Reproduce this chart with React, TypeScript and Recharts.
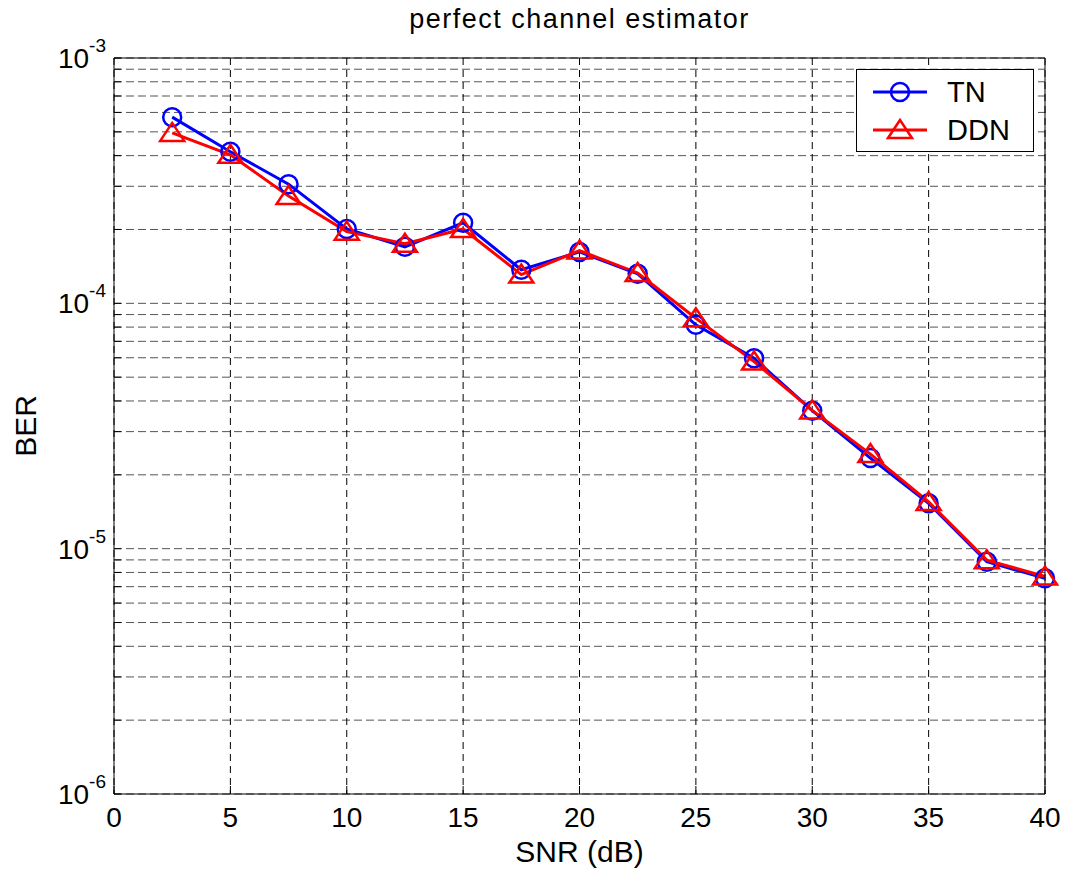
import React from "react";
import {
  LineChart,
  Line,
  XAxis,
  YAxis,
  CartesianGrid,
  Legend,
} from "recharts";

const snrDb = [2.5, 5, 7.5, 10, 12.5, 15, 17.5, 20, 22.5, 25, 27.5, 30, 32.5, 35, 37.5, 40];
const tnBer = [
  5.74e-4, 4.15e-4, 3.06e-4, 2.01e-4, 1.7e-4, 2.13e-4, 1.37e-4, 1.62e-4,
  1.32e-4, 8.17e-5, 5.97e-5, 3.65e-5, 2.34e-5, 1.53e-5, 8.85e-6, 7.57e-6,
];
const ddnBer = [
  4.95e-4, 4.03e-4, 2.74e-4, 1.96e-4, 1.75e-4, 2.01e-4, 1.31e-4, 1.64e-4,
  1.33e-4, 8.69e-5, 5.79e-5, 3.66e-5, 2.43e-5, 1.55e-5, 8.98e-6, 7.7e-6,
];
const seriesOrder = ["tn", "ddn"];
const snrTicks = [0, 5, 10, 15, 20, 25, 30, 35, 40];
const berTicks = [
  1e-6, 2e-6, 3e-6, 4e-6, 5e-6, 6e-6, 7e-6, 8e-6, 9e-6,
  1e-5, 2e-5, 3e-5, 4e-5, 5e-5, 6e-5, 7e-5, 8e-5, 9e-5,
  1e-4, 2e-4, 3e-4, 4e-4, 5e-4, 6e-4, 7e-4, 8e-4, 9e-4,
  1e-3,
];

const data = snrDb.map((snr, i) => ({ snr, tn: tnBer[i], ddn: ddnBer[i] }));

const FONT = '"Liberation Sans", Arial, sans-serif';

function isDecade(v: number) {
  const l = Math.log10(v);
  return Math.abs(l - Math.round(l)) < 1e-6;
}

function BerTick(props: any) {
  const { x, y, payload } = props;
  if (!isDecade(payload.value)) return null;
  const exp = Math.round(Math.log10(payload.value));
  return (
    <text x={x} y={y + 10} textAnchor="end" fontSize={28} fontFamily={FONT} fill="#000">
      <tspan>10</tspan>
      <tspan dy={-16} fontSize={19}>{String(exp)}</tspan>
    </text>
  );
}

function SnrTick(props: any) {
  const { x, y, payload } = props;
  return (
    <text x={x} y={y + 33} textAnchor="middle" fontSize={28} fontFamily={FONT} fill="#000">
      {payload.value}
    </text>
  );
}

function Circle(props: any) {
  const { cx, cy, stroke } = props;
  return <circle cx={cx} cy={cy} r={9} fill="none" stroke={stroke} strokeWidth={2.5} />;
}

function Triangle(props: any) {
  const { cx, cy, stroke } = props;
  const pts = `${cx},${cy - 10} ${cx - 12},${cy + 8} ${cx + 12},${cy + 8}`;
  return <polygon points={pts} fill="none" stroke={stroke} strokeWidth={2.5} />;
}

function LegendBox({ payload }: any) {
  const rows = [...((payload || []) as any[])].sort(
    (a, b) => seriesOrder.indexOf(a.dataKey) - seriesOrder.indexOf(b.dataKey)
  );
  return (
    <svg width={178} height={83} style={{ display: "block" }}>
      <rect x={0.5} y={0.5} width={177} height={82} fill="#fff" stroke="#000" strokeWidth={1} />
      {rows.map((entry, i) => {
        const cy = 23 + i * 38;
        const Marker = entry.dataKey === "ddn" ? Triangle : Circle;
        return (
          <g key={entry.value}>
            <line x1={17} x2={71} y1={cy} y2={cy} stroke={entry.color} strokeWidth={3} />
            <Marker cx={44} cy={cy} stroke={entry.color} />
            <text x={91} y={cy + 10} fontSize={29} fontFamily={FONT} fill="#000">
              {entry.value}
            </text>
          </g>
        );
      })}
    </svg>
  );
}

export default function App() {
  return (
    <div
      style={{
        position: "absolute",
        left: 0,
        top: 0,
        width: 1071,
        height: 874,
        background: "#fff",
        fontFamily: FONT,
      }}
    >
      <div
        style={{
          position: "absolute",
          left: 114,
          width: 931,
          top: 4,
          textAlign: "center",
          fontSize: 27,
          lineHeight: "30px",
          letterSpacing: 1.5,
          color: "#000",
        }}
      >
        perfect channel estimator
      </div>
      <LineChart
        width={1071}
        height={874}
        data={data}
        margin={{ top: 57, right: 25, bottom: 0, left: 0 }}
      >
        <CartesianGrid
          horizontal={true}
          vertical={false}
          stroke="#555"
          strokeDasharray="8 4"
        />
        <CartesianGrid
          horizontal={false}
          vertical={true}
          stroke="#000"
          strokeDasharray="7 5"
        />
        <XAxis
          dataKey="snr"
          type="number"
          domain={[0, 40]}
          ticks={snrTicks}
          interval={0}
          height={80}
          tickSize={-8}
          tickMargin={8}
          tick={<SnrTick />}
          axisLine={{ stroke: "#000" }}
          tickLine={{ stroke: "#000" }}
          label={{
            content: ({ viewBox }: any) => (
              <text
                x={viewBox.x + viewBox.width / 2}
                y={viewBox.y + 68}
                textAnchor="middle"
                fontSize={30}
                fontFamily={FONT}
                fill="#000"
              >
                SNR (dB)
              </text>
            ),
          }}
        />
        <XAxis
          xAxisId="top"
          orientation="top"
          type="number"
          domain={[0, 40]}
          ticks={snrTicks}
          interval={0}
          height={1}
          tickSize={-8}
          tick={false}
          axisLine={{ stroke: "#000" }}
          tickLine={{ stroke: "#000" }}
        />
        <YAxis
          type="number"
          scale="log"
          domain={[1e-6, 1e-3]}
          allowDataOverflow
          ticks={berTicks}
          interval={0}
          width={114}
          tickSize={-7}
          tickMargin={15}
          tick={<BerTick />}
          axisLine={{ stroke: "#000" }}
          tickLine={{ stroke: "#000" }}
          label={{
            content: ({ viewBox }: any) => {
              const cx = viewBox.x + 36;
              const cy = viewBox.y + viewBox.height / 2;
              return (
                <text
                  x={cx}
                  y={cy}
                  transform={`rotate(-90 ${cx} ${cy})`}
                  textAnchor="middle"
                  fontSize={30}
                  fontFamily={FONT}
                  fill="#000"
                >
                  BER
                </text>
              );
            },
          }}
        />
        <YAxis
          yAxisId="right"
          orientation="right"
          type="number"
          scale="log"
          domain={[1e-6, 1e-3]}
          allowDataOverflow
          ticks={berTicks}
          interval={0}
          width={1}
          tickSize={-7}
          tick={false}
          axisLine={{ stroke: "#000" }}
          tickLine={{ stroke: "#000" }}
        />
        <Legend
          layout="vertical"
          align="center"
          verticalAlign="middle"
          content={<LegendBox />}
          wrapperStyle={{ left: 856, top: 69, width: 178, height: 83 }}
        />
        <Line
          dataKey="tn"
          name="TN"
          stroke="#0000ff"
          strokeWidth={3}
          dot={<Circle />}
          activeDot={false}
          isAnimationActive={false}
        />
        <Line
          dataKey="ddn"
          name="DDN"
          stroke="#ff0000"
          strokeWidth={3}
          dot={<Triangle />}
          activeDot={false}
          isAnimationActive={false}
        />
      </LineChart>
    </div>
  );
}
